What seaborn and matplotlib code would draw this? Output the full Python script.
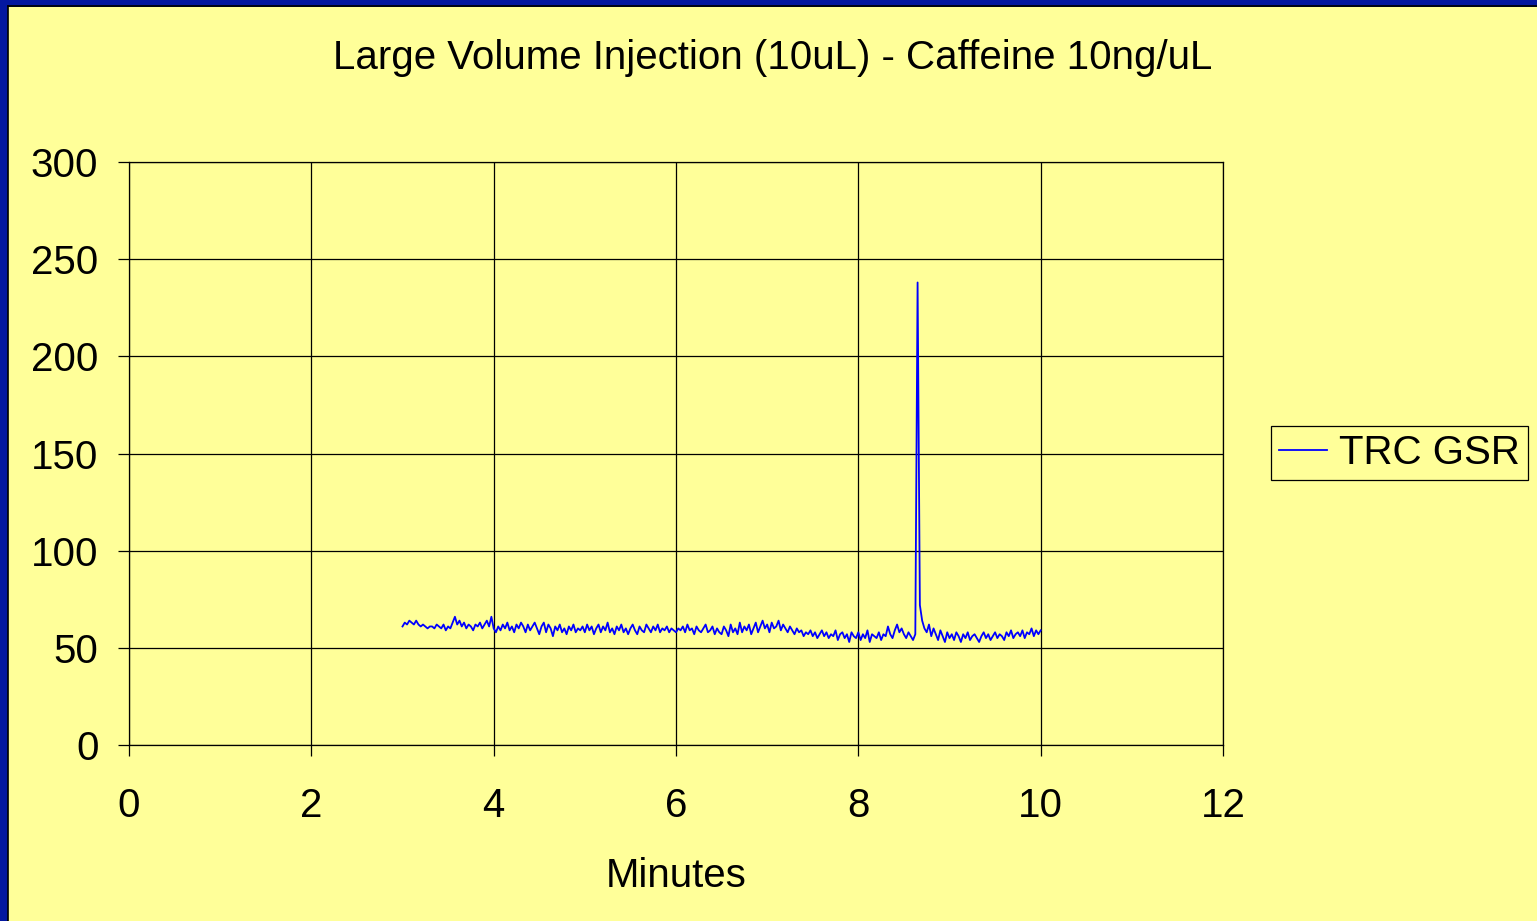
import numpy as np
import pandas as pd
import matplotlib
matplotlib.use("Agg")
import matplotlib.pyplot as plt
from matplotlib.patches import Rectangle
import seaborn as sns

# ---- data ----
title = "Large Volume Injection (10uL) - Caffeine 10ng/uL"
x_label = "Minutes"
series_name = "TRC GSR"
start_min = 3.0
step_min = 0.025
signal = [
    61, 63, 62, 64, 63, 62, 64, 62, 61, 62, 61, 60, 61, 61, 60, 62, 61, 60, 62, 59,
    61, 60, 63, 66, 62, 64, 61, 63, 60, 62, 61, 59, 62, 61, 63, 60, 62, 64, 61, 66,
    60, 58, 61, 59, 62, 60, 63, 59, 61, 58, 62, 60, 63, 61, 58, 62, 59, 61, 63, 60,
    57, 61, 63, 58, 62, 60, 56, 61, 59, 62, 58, 60, 57, 61, 59, 62, 58, 60, 59, 61,
    58, 62, 59, 61, 57, 60, 62, 58, 61, 59, 63, 58, 60, 57, 61, 59, 62, 58, 60, 57,
    60, 62, 59, 57, 61, 59, 58, 62, 60, 58, 61, 59, 62, 58, 60, 59, 61, 58, 60, 59,
    58, 60, 59, 61, 58, 62, 59, 60, 57, 61, 59, 58, 60, 62, 58, 59, 61, 57, 60, 58,
    57, 61, 59, 56, 62, 58, 60, 57, 63, 58, 61, 59, 62, 57, 60, 63, 58, 61, 64, 60,
    62, 58, 63, 60, 61, 64, 59, 62, 60, 58, 61, 59, 57, 60, 58, 59, 56, 58, 57, 59,
    56, 58, 55, 57, 59, 56, 58, 55, 57, 56, 59, 54, 57, 58, 55, 57, 53, 58, 56, 55,
    58, 54, 57, 55, 59, 53, 57, 56, 55, 58, 54, 57, 56, 61, 57, 55, 59, 62, 58, 60,
    57, 55, 58, 56, 54, 57, 238, 72, 64, 60, 58, 62, 56, 60, 57, 54, 59, 56, 53, 58,
    55, 57, 54, 58, 56, 53, 57, 55, 58, 54, 56, 57, 55, 53, 56, 58, 55, 57, 54, 56,
    58, 55, 57, 56, 54, 58, 56, 59, 55, 57, 58, 56, 59, 55, 58, 57, 60, 56, 59, 57, 59,
]
x_ticks = [0, 2, 4, 6, 8, 10, 12]
y_ticks = [0, 50, 100, 150, 200, 250, 300]

minutes = np.round(start_min + step_min * np.arange(len(signal)), 4)
df = pd.DataFrame({"Minutes": minutes, "Signal": signal, "Series": series_name})

# ---- style ----
bg = "#FFFF99"
border_blue = "#0418A0"
plt.rcParams["font.family"] = ["Liberation Sans", "DejaVu Sans"]
FS = 29

W, H = 1537, 921
fig = plt.figure(figsize=(W / 100, H / 100), dpi=100)
fig.patch.set_facecolor(border_blue)
# yellow panel with thin black edge (blue strip left and top)
fig.patches.append(Rectangle((8 / W, 0), 1 - 8 / W, 1 - 7 / H, transform=fig.transFigure,
                             facecolor=bg, edgecolor="none", zorder=-10))
fig.lines.append(plt.Line2D([7.5 / W, 7.5 / W], [0, 1 - 6.5 / H], transform=fig.transFigure,
                            color="black", lw=1.2, zorder=-9))
fig.lines.append(plt.Line2D([7.5 / W, 1], [1 - 6.5 / H, 1 - 6.5 / H], transform=fig.transFigure,
                            color="black", lw=1.2, zorder=-9))

ax = fig.add_axes([129 / W, 1 - 745 / H, (1223 - 129) / W, (745 - 162) / H])
ax.set_facecolor(bg)

sns.lineplot(data=df, x="Minutes", y="Signal", hue="Series", palette=["#0000FF"],
             linewidth=1.3, ax=ax, legend=True)

ax.set_xlim(0, 12)
ax.set_ylim(0, 300)
ax.set_xticks(x_ticks)
ax.set_yticks(y_ticks)
ax.grid(True, color="black", linewidth=0.9)
ax.set_axisbelow(True)
for s in ["left", "bottom", "top", "right"]:
    ax.spines[s].set_visible(True)
    ax.spines[s].set_color("black")
    ax.spines[s].set_linewidth(0.9)
ax.tick_params(axis="both", direction="out", length=8, width=0.9, colors="black",
               labelsize=FS)
ax.tick_params(axis="y", pad=14)
ax.tick_params(axis="x", pad=22)
ax.set_xlabel(x_label, fontsize=FS, labelpad=23)
ax.set_ylabel("")

fig.text(773 / W, 1 - 58 / H, title, ha="center", va="center", fontsize=FS)

leg = ax.legend(loc="center left", bbox_to_anchor=(1271 / W, 1 - 453 / H),
                bbox_transform=fig.transFigure, fontsize=FS, frameon=True,
                fancybox=False, handlelength=1.2, handletextpad=0.28,
                borderpad=0.2, borderaxespad=0)
leg.get_frame().set_facecolor(bg)
leg.get_frame().set_edgecolor("black")
leg.get_frame().set_linewidth(0.9)
leg.get_frame().set_alpha(1)
for h in leg.get_lines():
    h.set_linewidth(1.3)

fig.savefig("out.png", dpi=100, facecolor=fig.get_facecolor())
